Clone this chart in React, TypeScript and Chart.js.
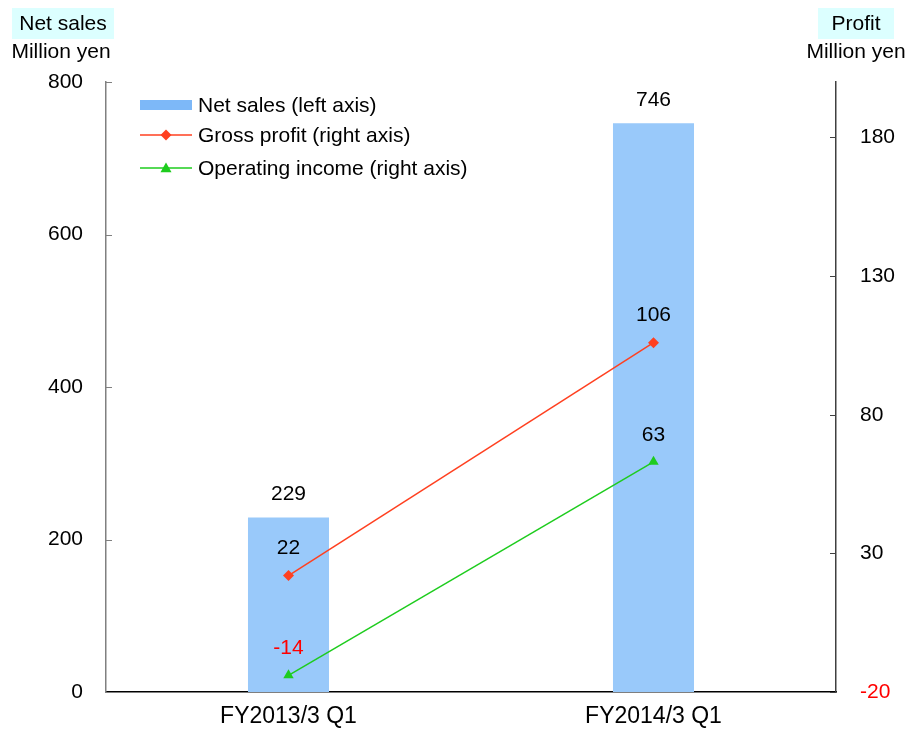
import { useEffect, useRef } from "react";
import { Chart, registerables } from "chart.js";

Chart.register(...registerables);

// Quarterly results
const categories = ["FY2013/3 Q1", "FY2014/3 Q1"];
const netSales = [229, 746];
const grossProfit = [22, 106];
const operatingIncome = [-14, 63];

// Axis ticks
const leftTicks = [0, 200, 400, 600, 800];
const rightTicks = [-20, 30, 80, 130, 180];

const FONT = '"Liberation Sans", Arial, Helvetica, sans-serif';
const TEXT_SIZE = 21;
const BAR_COLOR = "#99C9FA";
const BAR_LEGEND_COLOR = "#7DB8F8";
const GROSS_COLOR = "#FF4020";
const OPER_COLOR = "#1ECC1E";
const HEADER_FILL = "#DCFFFF";

const legendItems = [
  { label: "Net sales (left axis)", kind: "bar", color: BAR_LEGEND_COLOR },
  { label: "Gross profit (right axis)", kind: "diamond", color: GROSS_COLOR },
  { label: "Operating income (right axis)", kind: "triangle", color: OPER_COLOR },
];

function drawMarker(ctx: CanvasRenderingContext2D, kind: string, x: number, y: number, r: number, color: string) {
  ctx.fillStyle = color;
  ctx.beginPath();
  if (kind === "diamond") {
    ctx.moveTo(x, y - r);
    ctx.lineTo(x + r, y);
    ctx.lineTo(x, y + r);
    ctx.lineTo(x - r, y);
  } else {
    ctx.moveTo(x, y - r);
    ctx.lineTo(x + r, y + r * 0.75);
    ctx.lineTo(x - r, y + r * 0.75);
  }
  ctx.closePath();
  ctx.fill();
}

// Headers, inward tick marks, value labels and the in-plot legend
const decorations = {
  id: "decorations",
  afterDatasetsDraw(chart: any) {
    const ctx: CanvasRenderingContext2D = chart.ctx;
    const area = chart.chartArea;
    ctx.save();

    // inward tick marks
    const yl = chart.scales.y;
    const yr = chart.scales.y1;
    ctx.lineWidth = 1;
    ctx.strokeStyle = "#808080";
    leftTicks.forEach((v) => {
      const py = Math.round(yl.getPixelForValue(v)) + 0.5;
      ctx.beginPath();
      ctx.moveTo(area.left, py);
      ctx.lineTo(area.left + 6, py);
      ctx.stroke();
    });
    ctx.strokeStyle = "#404040";
    rightTicks.forEach((v) => {
      const py = Math.round(yr.getPixelForValue(v)) + 0.5;
      ctx.beginPath();
      ctx.moveTo(area.right, py);
      ctx.lineTo(area.right - 6, py);
      ctx.stroke();
    });

    // value labels
    ctx.font = `${TEXT_SIZE}px ${FONT}`;
    ctx.textAlign = "center";
    ctx.textBaseline = "middle";
    chart.data.datasets.forEach((ds: any, i: number) => {
      const meta = chart.getDatasetMeta(i);
      const gap = ds.type === "bar" ? 23 : 27;
      meta.data.forEach((el: any, j: number) => {
        const v = ds.data[j];
        ctx.fillStyle = v < 0 ? "#FF0000" : "#000000";
        ctx.fillText(String(v), el.x, el.y - gap);
      });
    });

    // legend
    const lx = area.left + 34;
    const rowY = [area.top + 23, area.top + 53, area.top + 86];
    legendItems.forEach((it, k) => {
      const y = rowY[k];
      if (it.kind === "bar") {
        ctx.fillStyle = it.color;
        ctx.fillRect(lx, y - 5, 52, 10);
      } else {
        ctx.strokeStyle = it.color;
        ctx.lineWidth = 1.5;
        ctx.beginPath();
        ctx.moveTo(lx, y);
        ctx.lineTo(lx + 52, y);
        ctx.stroke();
        drawMarker(ctx, it.kind, lx + 26, y, 5.5, it.color);
      }
      ctx.fillStyle = "#000";
      ctx.textAlign = "left";
      ctx.fillText(it.label, lx + 58, y + 1);
    });

    // axis headers
    const header = (text: string, unit: string, cx: number, bx: number, bw: number) => {
      ctx.fillStyle = HEADER_FILL;
      ctx.fillRect(bx, 8, bw, 31);
      ctx.fillStyle = "#000";
      ctx.textAlign = "center";
      ctx.fillText(text, bx + bw / 2, 24);
      ctx.fillText(unit, cx, 52);
    };
    header("Net sales", "Million yen", 61, 12, 102);
    header("Profit", "Million yen", 856, 818, 76);

    ctx.restore();
  },
};

export default function App() {
  const canvasRef = useRef<HTMLCanvasElement | null>(null);

  useEffect(() => {
    const canvas = canvasRef.current;
    if (!canvas) return;
    const tickFont = { family: FONT, size: TEXT_SIZE };

    const chart = new Chart(canvas, {
      type: "bar",
      data: {
        labels: categories,
        datasets: [
          {
            type: "bar",
            label: "Net sales (left axis)",
            data: netSales,
            backgroundColor: BAR_COLOR,
            borderWidth: 0,
            yAxisID: "y",
            barPercentage: 0.222,
            categoryPercentage: 1,
            order: 3,
          },
          {
            type: "line",
            label: "Gross profit (right axis)",
            data: grossProfit,
            borderColor: GROSS_COLOR,
            backgroundColor: GROSS_COLOR,
            borderWidth: 1.5,
            pointStyle: "rectRot",
            pointRadius: 5.5,
            pointBorderWidth: 0,
            yAxisID: "y1",
            order: 1,
          },
          {
            type: "line",
            label: "Operating income (right axis)",
            data: operatingIncome,
            borderColor: OPER_COLOR,
            backgroundColor: OPER_COLOR,
            borderWidth: 1.5,
            pointStyle: "triangle",
            pointRadius: 6,
            pointBorderWidth: 0,
            yAxisID: "y1",
            order: 2,
          },
        ] as any,
      },
      options: {
        animation: false,
        responsive: false,
        maintainAspectRatio: false,
        layout: { padding: { top: 82, left: 0, right: 0, bottom: 0 } },
        plugins: {
          legend: { display: false },
          tooltip: { enabled: false },
        },
        scales: {
          x: {
            type: "category",
            offset: true,
            grid: { display: false, drawTicks: false },
            border: { display: true, color: "#000000", width: 1.5 },
            ticks: { font: { family: FONT, size: 23 }, color: "#000", padding: 11, maxRotation: 0 },
            afterFit: (s: any) => {
              s.height = 39;
            },
          },
          y: {
            type: "linear",
            position: "left",
            min: 0,
            max: 800,
            grid: { display: false, drawTicks: false },
            border: { display: true, color: "#808080", width: 1.5 },
            ticks: { font: tickFont, color: "#000", padding: 23 },
            afterBuildTicks: (s: any) => {
              s.ticks = leftTicks.map((v) => ({ value: v }));
            },
            afterFit: (s: any) => {
              s.width = 106;
            },
          },
          y1: {
            type: "linear",
            position: "right",
            min: -20,
            max: 200,
            grid: { display: false, drawTicks: false },
            border: { display: true, color: "#404040", width: 1.5 },
            ticks: {
              font: tickFont,
              padding: 24,
              color: (c: any) => (c.tick && c.tick.value < 0 ? "#FF0000" : "#000000"),
            },
            afterBuildTicks: (s: any) => {
              s.ticks = rightTicks.map((v) => ({ value: v }));
            },
            afterFit: (s: any) => {
              s.width = 74;
            },
          },
        },
      } as any,
      plugins: [decorations],
    });

    return () => chart.destroy();
  }, []);

  return (
    <div style={{ position: "fixed", left: 0, top: 0, width: 910, height: 731, background: "#fff" }}>
      <canvas ref={canvasRef} width={910} height={731} style={{ display: "block" }} />
    </div>
  );
}
